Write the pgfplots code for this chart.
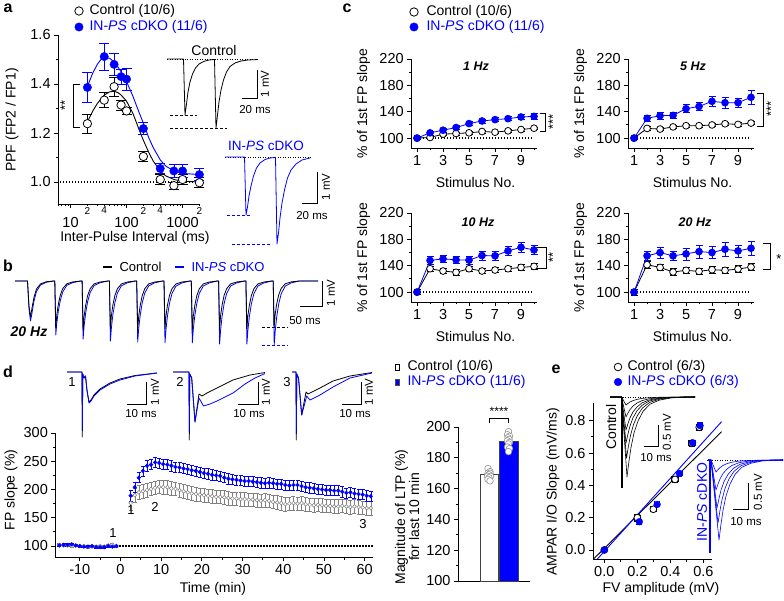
\documentclass[border=0pt]{standalone}
\usepackage{pgfplots}
\pgfplotsset{compat=1.18}
\usepackage{fontspec}
\setmainfont{Liberation Sans}
\definecolor{myblue}{RGB}{0,0,255}
\newcommand{\fz}[1]{\fontsize{#1}{#1}\selectfont}
\newcommand{\inps}{IN-\textit{PS} cDKO}
\pgfplotsset{
 base/.style={scale only axis, axis lines=left, axis line style={-, line width=0.9pt},
   tick align=outside, major tick length=4pt, minor tick length=2.5pt,
   every tick/.append style={line width=0.9pt, black},
   tick label style={font=\fz{14.5}}, label style={font=\fz{14}},
   /pgf/number format/assume math mode=true, /pgf/number format/1000 sep={}, clip=false, anchor=south west},
 ctrlm/.style={mark=*, mark options={fill=white, draw=black, line width=0.8pt, solid}},
 bluem/.style={mark=*, mark options={fill=myblue, draw=myblue, solid}},
 dotl/.style={black, dash pattern=on 1.3pt off 1.7pt, line width=1.3pt},
}
\begin{document}
\begin{tikzpicture}
\path[use as bounding box] (0,0) rectangle (784pt,-601pt);

%%%%%%%%%%%%%%%% panel a
\begin{axis}[base, at={(58.1pt,-204pt)}, width=141.3pt, height=169pt,
  xmode=log, xmin=6, xmax=2000, ymin=0.91, ymax=1.6,
  log ticks with fixed point, xtick={10,100,1000},
  xticklabel style={yshift=-6pt},
  minor xtick={6,7,8,9,30,50,60,70,80,90,300,500,600,700,800,900},
  extra x ticks={20,40,200,400,2000}, extra x tick labels={2,4,2,4,2},
  extra x tick style={major tick length=2.5pt, xticklabel style={font=\fz{10}, yshift=9pt}},
  ytick={1.0,1.2,1.4,1.6}, minor ytick={1.1,1.3,1.5},
  yticklabel style={/pgf/number format/.cd, fixed, fixed zerofill, precision=1},
  xlabel={Inter-Pulse Interval (ms)}, ylabel={PPF (FP2 / FP1)},
  xlabel style={at={(axis description cs:0.544,-0.203)}, anchor=center},
  ylabel style={at={(axis description cs:-0.326,0.497)}, anchor=center}]
\addplot[dotl] coordinates {(6.5,1)(2000,1)};
\addplot[black, line width=0.9pt] coordinates {(20,1.245)(25,1.29)(30,1.32)(40,1.355)(50,1.368)(60,1.37)(70,1.365)(80,1.355)(100,1.33)(130,1.28)(170,1.21)(200,1.17)(250,1.12)(300,1.085)(400,1.045)(500,1.025)(700,1.01)(1000,1.003)(2000,1.0)};
\addplot[myblue, line width=0.9pt] coordinates {(20,1.39)(25,1.445)(30,1.48)(35,1.50)(40,1.508)(50,1.505)(60,1.49)(70,1.47)(80,1.45)(100,1.41)(130,1.35)(170,1.28)(200,1.24)(250,1.18)(300,1.14)(400,1.09)(500,1.065)(700,1.045)(1000,1.035)(2000,1.03)};
\addplot[only marks, ctrlm, mark size=4.2pt, error bars/.cd, y dir=both, y explicit,
  error bar style={black, line width=0.7pt}, error mark options={rotate=90, mark size=5pt, black, line width=0.7pt}]
  coordinates {(20,1.238) +- (0,0.04) (40,1.334) +- (0,0.03) (60,1.389) +- (0,0.04) (80,1.314) +- (0,0.02) (100,1.29) +- (0,0.015) (200,1.104) +- (0,0.02) (400,1.01) +- (0,0.02) (700,0.985) +- (0,0.015) (1000,1.01) +- (0,0.02) (2000,0.997) +- (0,0.02)};
\addplot[only marks, bluem, mark size=4.2pt, error bars/.cd, y dir=both, y explicit,
  error bar style={myblue, line width=0.7pt}, error mark options={rotate=90, mark size=5pt, myblue, line width=0.7pt}]
  coordinates {(20,1.386) +- (0,0.06) (40,1.512) +- (0,0.055) (60,1.48) +- (0,0.045) (80,1.43) +- (0,0.03) (100,1.42) +- (0,0.045) (200,1.218) +- (0,0.025) (400,1.055) +- (0,0.02) (700,1.045) +- (0,0.025) (1000,1.045) +- (0,0.025) (2000,1.03) +- (0,0.025)};
\end{axis}

%%%%%%%%%%%%%%%% panel c
\pgfplotsset{cstyle/.style={base, width=125.4pt, height=89pt, xmin=0.55, xmax=10.2, ymin=85, ymax=220,
  xtick={1,3,5,7,9}, minor xtick={2,4,6,8,10}, ytick={100,140,180,220}, minor ytick={120,160,200},
  xlabel={Stimulus No.}, ylabel={\% of 1st FP slope},
  xlabel style={at={(axis description cs:0.513,-0.382)}, anchor=center},
  ylabel style={at={(axis description cs:-0.38,0.494)}, anchor=center}},
  cctrl/.style={black, line width=0.8pt, ctrlm, mark size=3.4pt, error bars/.cd, y dir=both, y fixed=#1,
  error bar style={black, line width=0.6pt}, error mark options={rotate=90, mark size=3.5pt, black, line width=0.6pt}},
  cblue/.style={myblue, line width=0.8pt, bluem, mark size=3.4pt, error bars/.cd, y dir=both, y explicit,
  error bar style={myblue, line width=0.6pt}, error mark options={rotate=90, mark size=3.5pt, myblue, line width=0.6pt}}}
\begin{axis}[cstyle, at={(411.2pt,-148pt)}]
\addplot[dotl] coordinates {(1,100)(10,100)};
\addplot[cctrl=2] coordinates {(1,100)(2,101)(3,106)(4,107)(5,108)(6,110)(7,109)(8,111)(9,113)(10,115)};
\addplot[cblue] coordinates {(1,100) +- (0,0) (2,108) +- (0,3) (3,112) +- (0,3) (4,116) +- (0,3) (5,122) +- (0,3) (6,126) +- (0,3) (7,128) +- (0,3) (8,129.5) +- (0,3) (9,132) +- (0,4) (10,133) +- (0,4)};
\end{axis}
\begin{axis}[cstyle, at={(628.2pt,-148pt)}]
\addplot[dotl] coordinates {(1,100)(10,100)};
\addplot[cctrl=2.5] coordinates {(1,100)(2,114.7)(3,113.7)(4,117)(5,118.8)(6,118.8)(7,120)(8,121.8)(9,120.8)(10,122.8)};
\addplot[cblue] coordinates {(1,100) +- (0,0) (2,130) +- (0,5) (3,134) +- (0,5) (4,134.5) +- (0,5) (5,144.6) +- (0,6) (6,148) +- (0,6) (7,155.8) +- (0,8) (8,153.7) +- (0,8) (9,153.7) +- (0,7) (10,161.9) +- (0,11)};
\end{axis}
\begin{axis}[cstyle, at={(411.2pt,-302pt)}]
\addplot[dotl] coordinates {(1,100)(10,100)};
\addplot[cctrl=4] coordinates {(1,100)(2,135.5)(3,132)(4,130)(5,135.5)(6,132)(7,133.5)(8,135.5)(9,137.5)(10,139)};
\addplot[cblue] coordinates {(1,100) +- (0,0) (2,148) +- (0,6) (3,150.5) +- (0,6) (4,149) +- (0,6) (5,148.5) +- (0,6) (6,155.5) +- (0,7) (7,155) +- (0,7) (8,162.5) +- (0,7) (9,168) +- (0,8) (10,164) +- (0,7)};
\end{axis}
\begin{axis}[cstyle, at={(628.2pt,-302pt)}]
\addplot[dotl] coordinates {(1,100)(10,100)};
\addplot[cctrl=5] coordinates {(1,100)(2,141.5)(3,137.5)(4,130.5)(5,133)(6,131.5)(7,134)(8,133)(9,135)(10,138)};
\addplot[cblue] coordinates {(1,100) +- (0,0) (2,155) +- (0,7) (3,160) +- (0,8) (4,155) +- (0,7) (5,158) +- (0,9) (6,161.5) +- (0,10) (7,160) +- (0,9) (8,165) +- (0,10) (9,162.5) +- (0,9) (10,166.5) +- (0,10)};
\end{axis}

%%%%%%%%%%%%%%%% panel d main
\begin{axis}[base, at={(55.4pt,-557.3pt)}, width=317.4pt, height=124.3pt,
  xmin=-16, xmax=62, ymin=80, ymax=300,
  xtick={-10,0,...,60}, minor x tick num=1, ytick={100,150,...,300}, minor y tick num=1,
  xlabel={Time (min)}, ylabel={FP slope (\%)},
  xlabel style={at={(axis description cs:0.4965,-0.255)}, anchor=center},
  ylabel style={at={(axis description cs:-0.14,0.541)}, anchor=center}]
\addplot[dotl] coordinates {(-15,100)(62,100)};
\pgfplotsset{dc/.style={only marks, mark=*, mark size=1.9pt, mark options={fill=white, draw=gray, line width=0.5pt}, error bars/.cd, y dir=both, y fixed=#1, error bar style={gray, line width=0.5pt}, error mark options={rotate=90, mark size=2pt, gray, line width=0.5pt}},
 db/.style={only marks, mark=*, mark size=1.9pt, mark options={fill=myblue, draw=myblue}, error bars/.cd, y dir=both, y fixed=#1, error bar style={myblue, line width=0.5pt}, error mark options={rotate=90, mark size=2pt, myblue, line width=0.5pt}}}
\addplot[dc=2] coordinates {(-15,102)(-14,101)(-13,101)(-12,100)(-11,101)(-10,100)(-9,100)(-8,98)(-7,99)(-6,99)(-5,100)(-4,99)(-3,101)(-2,102)(-1,100)};
\addplot[dc=12] coordinates {(2.5,176)(3.5,190)(4.5,195)(5.5,197)(6.5,199)(7.5,201)(8.5,203)(9.5,205)(10.5,204)(11.5,204)(12.5,202)(13.5,201)(14.5,199)(15.5,197)(16.5,195)(17.5,193)(18.5,192)(19.5,191)(20.5,190)(21.5,189)(22.5,188)(23.5,187)(24.5,187)(25.5,186)(26.5,185)(27.5,184)(28.5,184)(29.5,183)(30.5,183)(31.5,182)(32.5,182)(33.5,181)(34.5,180)(35.5,181)(36.5,180)(37.5,178)(38.5,177)(39.5,176)(40.5,174)(41.5,175)(42.5,176)(43.5,175)(44.5,176)(45.5,174)(46.5,173)(47.5,172)(48.5,173)(49.5,172)(50.5,171)(51.5,171)(52.5,170)(53.5,170)(54.5,171)(55.5,170)(56.5,169)(57.5,170)(58.5,169)(59.5,168)(60.5,167)(61.5,167)};
\addplot[db=2] coordinates {(-15,101)(-14,102)(-13,102)(-12,103)(-11,101)(-10,100)(-9,99)(-8,99)(-7,100)(-6,98)(-5,98)(-4,98)(-3,100)(-2,99)(-1,100)};
\addplot[db=9] coordinates {(2.5,189)(3.5,204)(4.5,221)(5.5,233)(6.5,242)(7.5,244)(8.5,248)(9.5,247)(10.5,245)(11.5,244)(12.5,242)(13.5,240)(14.5,239)(15.5,237)(16.5,236)(17.5,234)(18.5,233)(19.5,231)(20.5,229)(21.5,228)(22.5,226)(23.5,225)(24.5,224)(25.5,221)(26.5,219)(27.5,218)(28.5,217)(29.5,216)(30.5,215)(31.5,215)(32.5,214)(33.5,213)(34.5,212)(35.5,211)(36.5,212)(37.5,211)(38.5,210)(39.5,210)(40.5,208)(41.5,207)(42.5,208)(43.5,208)(44.5,206)(45.5,204)(46.5,203)(47.5,202)(48.5,201)(49.5,200)(50.5,199)(51.5,199)(52.5,198)(53.5,198)(54.5,196)(55.5,194)(56.5,195)(57.5,193)(58.5,192)(59.5,191)(60.5,189)(61.5,188)};
\end{axis}

%%%%%%%%%%%%%%%% panel d bars
\begin{axis}[base, clip=true, at={(458pt,-581pt)}, width=72pt, height=154pt,
  xmin=0, xmax=72, ymin=100, ymax=200, xtick=\empty,
  ytick={100,120,...,200}, minor ytick={110,130,...,190},
  ylabel={Magnitude of LTP (\%)\\for last 10 min},
  ylabel style={align=center, at={(axis description cs:-0.708,0.416)}, anchor=center}]
\addplot[ybar, bar width=18pt, bar shift=0pt, fill=white, draw=black!75, line width=0.8pt,
  error bars/.cd, y dir=both, y explicit, error bar style={black}, error mark options={rotate=90, mark size=2pt}] coordinates {(31,169.2) +- (0,1)};
\addplot[ybar, bar width=19pt, bar shift=0pt, fill=myblue, draw=black!75, line width=0.8pt,
  error bars/.cd, y dir=both, y explicit, error bar style={myblue!60}, error mark options={rotate=90, mark size=3pt, myblue!60}] coordinates {(50.5,190.8) +- (0,1.5)};
\addplot[only marks, mark=*, mark size=3.3pt, mark options={fill=white, draw=gray!85, line width=0.6pt}] coordinates {(30,173)(32,171)(30,170)(32,170)(31,169)(29.5,168)(32.5,168)(31,167)(30,166)(32,165)};
\addplot[only marks, mark=*, mark size=3.3pt, mark options={fill=white, draw=gray!85, line width=0.6pt}] coordinates {(50.5,197)(49.5,195)(51.5,194)(50,193)(51,192)(49.5,191)(51.5,190)(50.5,189)(49.5,187)(51.5,186)(50.5,184)};
\end{axis}

%%%%%%%%%%%%%%%% panel e
\begin{axis}[base, at={(593pt,-559pt)}, width=118.6pt, height=156pt,
  xmin=-0.0685, xmax=0.65, ymin=-0.056, ymax=0.91,
  xtick={0,0.2,0.4,0.6}, minor xtick={0.1,0.3,0.5}, ytick={0,0.2,0.4,0.6,0.8}, minor ytick={0.1,0.3,0.5,0.7},
  xticklabel style={/pgf/number format/.cd, fixed, fixed zerofill, precision=1},
  yticklabel style={/pgf/number format/.cd, fixed, fixed zerofill, precision=1},
  xlabel={FV amplitude (mV)}, ylabel={AMPAR I/O Slope (mV/ms)},
  xlabel style={at={(axis description cs:0.573,-0.192)}, anchor=center},
  ylabel style={at={(axis description cs:-0.337,0.43)}, anchor=center}]
\addplot[black, line width=0.9pt] coordinates {(-0.065,-0.056)(0.71,0.732)};
\addplot[myblue, line width=0.9pt] coordinates {(-0.042,-0.056)(0.71,0.794)};
\addplot[only marks, ctrlm, mark size=3.4pt, error bars/.cd, x dir=both, x explicit, y dir=both, y explicit,
  error bar style={black, line width=0.6pt}, error mark options={rotate=90, mark size=3pt, black, line width=0.6pt}]
  coordinates {(0,0) +- (0.01,0.01) (0.20,0.20) +- (0.02,0.02) (0.297,0.252) +- (0.02,0.015) (0.428,0.437) +- (0.02,0.02) (0.53,0.66) +- (0.02,0.02) (0.575,0.76) +- (0.02,0.02)};
\addplot[only marks, bluem, mark size=3.4pt, error bars/.cd, x dir=both, x explicit, y dir=both, y explicit,
  error bar style={myblue, line width=0.6pt}, error mark options={rotate=90, mark size=3pt, myblue, line width=0.6pt}]
  coordinates {(0,0) +- (0.01,0.01) (0.212,0.175) +- (0.015,0.015) (0.32,0.282) +- (0.015,0.01) (0.455,0.474) +- (0.015,0.015) (0.535,0.664) +- (0.015,0.015) (0.58,0.77) +- (0.015,0.02)};
\end{axis}

%%%%%%%%%%%%%%%% overlay in pixel units
\begin{axis}[at={(0pt,-601pt)}, anchor=south west, scale only axis, width=784pt, height=601pt,
  xmin=0, xmax=784, ymin=0, ymax=601, y dir=reverse, hide axis, clip=false]
\pgfplotsset{tr/.style={line width=0.8pt, line join=round}, sb/.style={black, line width=0.8pt}, dsh/.style={dash pattern=on 3pt off 2pt, line width=0.9pt}}
% panel letters
\node[font=\bfseries\fz{16}] at (axis cs:8,8) {a};
\node[font=\bfseries\fz{16}] at (axis cs:8,266) {b};
\node[font=\bfseries\fz{16}] at (axis cs:347,8) {c};
\node[font=\bfseries\fz{16}] at (axis cs:8,372) {d};
\node[font=\bfseries\fz{16}] at (axis cs:556,369) {e};
% a legend
\addplot[only marks, ctrlm, mark size=4.2pt] coordinates {(79,11)};
\addplot[only marks, bluem, mark size=4.2pt] coordinates {(79,27)};
\node[anchor=west, font=\fz{14}] at (axis cs:86,11) {Control (10/6)};
\node[anchor=west, font=\fz{14}, text=myblue] at (axis cs:86,27) {\inps{} (11/6)};
% a bracket
\addplot[sb] coordinates {(80,84)(73,84)(73,127)(80,127)};
\node[font=\fz{13}, rotate=90] at (axis cs:65,105) {**};
% a control trace
\addplot[black, dash pattern=on 1pt off 1.5pt, line width=0.6pt] coordinates {(167,59)(258,59)};
\addplot[black, tr] coordinates {(167,59)(183.5,59)(185,115)(186.5,104)(188,92)(190,82)(192.5,74)(195.5,68)(199,64)(204,61.3)(209,60)(214.5,59.5)(216,128)(217.5,115)(219,102)(221,90)(223.5,80)(226.5,72)(230,66.5)(235,63)(241,61)(248,60)(258,59.5)};
\addplot[black, dsh] coordinates {(170,115)(197,115)};
\addplot[black, dsh] coordinates {(170,128)(227,128)};
\addplot[sb] coordinates {(242,98)(257,98)(257,70)};
\node[font=\fz{14}] at (axis cs:214,50) {Control};
\node[font=\fz{11.5}, rotate=90] at (axis cs:265,84) {1 mV};
\node[font=\fz{11.5}] at (axis cs:255,110) {20 ms};
% a IN-PS trace
\addplot[black, dash pattern=on 1pt off 1.5pt, line width=0.6pt] coordinates {(225,157)(312,157)};
\addplot[myblue, tr] coordinates {(225,157)(244.5,157)(246,215)(247.5,207)(249,196)(251,186)(253.5,176)(256.5,168)(260,163)(265,159.5)(270,158)(275.5,157.5)(277,244)(278.5,233)(280,218)(282,203)(284.5,190)(287.5,178)(291,170)(296,164)(302,160)(310,158)};
\addplot[myblue, dsh] coordinates {(227,215)(250,215)};
\addplot[myblue, dsh] coordinates {(232,244)(272,244)};
\addplot[sb] coordinates {(302,203)(317,203)(317,172)};
\node[font=\fz{13.5}, text=myblue] at (axis cs:266,146) {\inps};
\node[font=\fz{11.5}, rotate=90] at (axis cs:326,187) {1 mV};
\node[font=\fz{11.5}] at (axis cs:312,216) {20 ms};
% b legend
\addplot[black, line width=1.6pt] coordinates {(103,267)(112,267)};
\node[anchor=west, font=\fz{13}] at (axis cs:116,267) {Control};
\addplot[myblue, line width=1.6pt] coordinates {(175,267)(184,267)};
\node[anchor=west, font=\fz{13}, text=myblue] at (axis cs:188,267) {\inps};
\node[font=\bfseries\itshape\fz{14}] at (axis cs:29,332) {20 Hz};
% b traces
\addplot[myblue, tr] coordinates {(15,281)(27.5,281)(29,309)(30.5,321)(32,313)(34,301)(36.5,291.4)(40.5,285)(46.5,282.2)(53.5,281)
(54.8,281)(55.8,335)(56.8,323.1)(58.3,311.2)(60.3,300.4)(62.8,291.8)(66.8,285.3)(72.8,282.6)(80.8,281)
(82.1,281)(83.1,339)(84.1,326.2)(85.6,313.5)(87.6,301.9)(90.1,292.6)(94.1,285.6)(100.1,282.7)(108.1,281)
(109.4,281)(110.4,341)(111.4,327.8)(112.9,314.6)(114.9,302.6)(117.4,293)(121.4,285.8)(127.4,282.8)(135.4,281)
(136.7,281)(137.7,342)(138.7,328.6)(140.2,315.2)(142.2,303)(144.7,293.2)(148.7,285.9)(154.7,282.8)(162.7,281)
(164,281)(165,343)(166,329.4)(167.5,315.7)(169.5,303.3)(172,293.4)(176,286)(182,282.9)(190,281)
(191.3,281)(192.3,343)(193.3,329.4)(194.8,315.7)(196.8,303.3)(199.3,293.4)(203.3,286)(209.3,282.9)(217.3,281)
(218.6,281)(219.6,344)(220.6,330.1)(222.1,316.3)(224.1,303.7)(226.6,293.6)(230.6,286)(236.6,282.9)(244.6,281)
(245.9,281)(246.9,344)(247.9,330.1)(249.4,316.3)(251.4,303.7)(253.9,293.6)(257.9,286)(263.9,282.9)(271.9,281)
(273.2,281)(274.2,345)(275.2,330.9)(276.7,316.8)(278.7,304)(281.2,293.8)(285.2,286.1)(291.2,282.9)(299.2,281)(318,281)};
\addplot[black, tr] coordinates {(15,281)(27.5,281)(29,306.2)(30.5,317)(32,308)(34,297.2)(36.5,288.9)(40.5,283.9)(46.5,281.7)(53.5,281)
(54.8,281)(55.8,328)(56.8,314.8)(58.3,304.5)(60.3,295.1)(62.8,288.5)(66.8,283.8)(72.8,281.9)(80.8,281)
(82.1,281)(83.1,330)(84.1,316.3)(85.6,305.5)(87.6,295.7)(90.1,288.8)(94.1,283.9)(100.1,282)(108.1,281)
(109.4,281)(110.4,329)(111.4,315.6)(112.9,305)(114.9,295.4)(117.4,288.7)(121.4,283.9)(127.4,282)(135.4,281)
(136.7,281)(137.7,330)(138.7,316.3)(140.2,305.5)(142.2,295.7)(144.7,288.8)(148.7,283.9)(154.7,282)(162.7,281)
(164,281)(165,329)(166,315.6)(167.5,305)(169.5,295.4)(172,288.7)(176,283.9)(182,282)(190,281)
(191.3,281)(192.3,330)(193.3,316.3)(194.8,305.5)(196.8,295.7)(199.3,288.8)(203.3,283.9)(209.3,282)(217.3,281)
(218.6,281)(219.6,329)(220.6,315.6)(222.1,305)(224.1,295.4)(226.6,288.7)(230.6,283.9)(236.6,282)(244.6,281)
(245.9,281)(246.9,329)(247.9,315.6)(249.4,305)(251.4,295.4)(253.9,288.7)(257.9,283.9)(263.9,282)(271.9,281)
(273.2,281)(274.2,327)(275.2,314.1)(276.7,304)(278.7,294.8)(281.2,288.4)(285.2,283.8)(291.2,281.9)(299.2,281)(318,281)};
\addplot[black, dsh] coordinates {(262,327)(288,327)};
\addplot[myblue, dsh] coordinates {(262,345)(288,345)};
\addplot[sb] coordinates {(300,306)(322,306)(322,281)};
\node[font=\fz{11.5}, rotate=90] at (axis cs:331,293) {1 mV};
\node[font=\fz{11.5}] at (axis cs:305,321) {50 ms};
% c legend
\addplot[only marks, ctrlm, mark size=4.2pt] coordinates {(414,12)};
\addplot[only marks, bluem, mark size=4.2pt] coordinates {(414,27)};
\node[anchor=west, font=\fz{14}] at (axis cs:423,12) {Control (10/6)};
\node[anchor=west, font=\fz{14}, text=myblue] at (axis cs:423,27) {\inps{} (11/6)};
% c titles and brackets
\node[font=\bfseries\itshape\fz{12.5}] at (axis cs:476,66) {1 Hz};
\node[font=\bfseries\itshape\fz{12.5}] at (axis cs:693,66) {5 Hz};
\node[font=\bfseries\itshape\fz{12.5}] at (axis cs:478,222) {10 Hz};
\node[font=\bfseries\itshape\fz{12.5}] at (axis cs:695,222) {20 Hz};
\addplot[sb] coordinates {(540,113)(545,113)(545,131)(540,131)};
\node[font=\fz{13}, rotate=90] at (axis cs:553,122) {***};
\addplot[sb] coordinates {(757,93)(763,93)(763,126)(757,126)};
\node[font=\fz{13}, rotate=90] at (axis cs:771,109) {***};
\addplot[sb] coordinates {(537,247)(546,247)(546,268)(537,268)};
\node[font=\fz{13}, rotate=90] at (axis cs:553,257) {**};
\addplot[sb] coordinates {(763,243)(770,243)(770,269)(763,269)};
\node[font=\fz{13}] at (axis cs:779,259) {*};
% d insets
\addplot[black, tr] coordinates {(67,372)(82,372)(82.3,437)(82.8,374)(84,378)(85.5,376)(87,390)(89,402)(91,400)(94,395)(100,389)(110,383)(120,379)(135,375.5)(157,373)};
\addplot[myblue, tr] coordinates {(67,372)(82,372)(82.3,430)(82.8,374)(84,378)(85.5,376)(87,391)(89,403)(91,401)(94,396)(100,390)(110,384)(120,380)(135,376)(157,373)};
\addplot[black, tr] coordinates {(173,372)(189,372)(189.3,440)(189.8,374)(191.7,378)(195,422)(199,394)(202,396)(207,393)(217,388)(233,380)(250,375)(265,372.5)};
\addplot[myblue, tr] coordinates {(173,372)(189,372)(189.3,432)(189.8,374)(191.7,378)(195,422)(199,398)(203.5,406)(210,404)(217,401)(225,397)(233,393)(245,384)(255,378)(265,373.5)};
\addplot[black, tr] coordinates {(292,372)(296,372)(296.3,440)(296.8,374)(298.5,378)(301.7,415)(306,392)(308,394)(320,388)(333,381)(350,376)(372,372.5)};
\addplot[myblue, tr] coordinates {(292,372)(296,372)(296.3,434)(296.8,374)(298.5,378)(301.7,415)(306.7,396)(310,400)(320,395)(333,387)(350,378)(372,373)};
\node[font=\fz{13}] at (axis cs:72,382) {1};
\node[font=\fz{13}] at (axis cs:180,382) {2};
\node[font=\fz{13}] at (axis cs:287,382) {3};
\addplot[sb] coordinates {(127,404)(146,404)(146,382)};
\node[font=\fz{11.5}, rotate=90] at (axis cs:155,392) {1 mV};
\node[font=\fz{11.5}] at (axis cs:141,414) {10 ms};
\addplot[sb] coordinates {(238,404)(258,404)(258,382)};
\node[font=\fz{11.5}, rotate=90] at (axis cs:266,392) {1 mV};
\node[font=\fz{11.5}] at (axis cs:249,414) {10 ms};
\addplot[sb] coordinates {(342,404)(361,404)(361,382)};
\node[font=\fz{11.5}, rotate=90] at (axis cs:369,392) {1 mV};
\node[font=\fz{11.5}] at (axis cs:355,414) {10 ms};
\node[font=\fz{13}] at (axis cs:113,533) {1};
\node[font=\fz{13}] at (axis cs:131,510) {1};
\node[font=\fz{13}] at (axis cs:155,507) {2};
\node[font=\fz{13}] at (axis cs:363,524) {3};
% d bar legend
\addplot[only marks, mark=square*, mark size=3pt, mark options={fill=white, draw=black, line width=0.6pt, xscale=0.7}] coordinates {(397,367)};
\addplot[only marks, mark=square*, mark size=3pt, mark options={fill=myblue, draw=black!70, line width=0.6pt, xscale=0.7}] coordinates {(397,382)};
\node[anchor=west, font=\fz{14}] at (axis cs:404,367) {Control (10/6)};
\node[anchor=west, font=\fz{14}, text=myblue] at (axis cs:404,382) {\inps{} (11/6)};
\addplot[sb] coordinates {(489,423)(489,418)(508,418)(508,423)};
\node[font=\fz{12}] at (axis cs:499,411) {****};
% e legend
\addplot[only marks, ctrlm, mark size=3.8pt] coordinates {(618,367)};
\addplot[only marks, bluem, mark size=3.8pt] coordinates {(618,382)};
\node[anchor=west, font=\fz{14}] at (axis cs:624,367) {Control (6/3)};
\node[anchor=west, font=\fz{14}, text=myblue] at (axis cs:624,382) {\inps{} (6/3)};
% e insets control
\addplot[black, dash pattern=on 1pt off 1.5pt, line width=0.6pt] coordinates {(610,397)(695,397)};
\addplot[black, tr, line width=0.6pt] coordinates {(610,397)(621.5,397)(626,405)(628,403.4)(630,402)(633,400.6)(637,399.4)(642,398.4)(649,397.7)(658,397.3)(671,397.1)(686,397)(695,397)};
\addplot[black, tr, line width=0.6pt] coordinates {(610,397)(621.5,397)(626,417)(628,413)(630,409.6)(633,406)(637,403)(642,400.6)(649,398.8)(658,397.8)(671,397.2)(686,397)(695,397)};
\addplot[black, tr, line width=0.6pt] coordinates {(610,397)(621.5,397)(626,430)(628,423.4)(630,417.8)(633,411.9)(637,406.9)(642,402.9)(649,400)(658,398.3)(671,397.3)(686,397)(695,397)};
\addplot[black, tr, line width=0.6pt] coordinates {(610,397)(621.5,397)(626,443)(628,433.8)(630,426)(633,417.7)(637,410.8)(642,405.3)(649,401.1)(658,398.8)(671,397.5)(686,397.1)(695,397)};
\addplot[black, tr, line width=0.6pt] coordinates {(610,397)(621.5,397)(626.5,458)(628.5,445.8)(630.5,435.4)(633.5,424.5)(637.5,415.3)(642.5,408)(649.5,402.5)(658.5,399.4)(671,397.6)(686,397.1)(695,397)};
\addplot[black, tr, line width=0.6pt] coordinates {(610,397)(621.5,397)(627,477)(629,461)(631,447.4)(634,433)(638,421)(643,411.4)(650,404.2)(659,400.2)(672,397.8)(686,397.2)(695,397)};
\addplot[black, line width=1.4pt] coordinates {(622,397)(622,488)};
\node[font=\fz{14}, rotate=90] at (axis cs:611,427) {Control};
\addplot[sb] coordinates {(644,446)(658,446)(658,425)};
\node[font=\fz{11.5}, rotate=90] at (axis cs:667,432) {0.5 mV};
\node[font=\fz{11.5}] at (axis cs:656,458) {10 ms};
% e insets IN-PS
\addplot[black, dash pattern=on 1pt off 1.5pt, line width=0.6pt] coordinates {(707,460)(783,460)};
\addplot[myblue, tr, line width=0.6pt] coordinates {(708,460)(711,460)(716,472)(718,469.6)(720,467.6)(723,465.4)(727,463.6)(732,462.2)(739,461.1)(748,460.5)(761,460.1)(776,460)(783,460)};
\addplot[myblue, tr, line width=0.6pt] coordinates {(708,460)(711,460)(716,490)(718,484)(720,478.9)(723,473.5)(727,469)(732,465.4)(739,462.7)(748,461.2)(761,460.3)(776,460)(783,460)};
\addplot[myblue, tr, line width=0.6pt] coordinates {(708,460)(711,460)(717,508)(719,498.4)(721,490.2)(724,481.6)(728,474.4)(733,468.6)(740,464.3)(749,461.9)(761,460.5)(776,460.1)(783,460)};
\addplot[myblue, tr, line width=0.6pt] coordinates {(708,460)(711,460)(718,523)(720,510.4)(722,499.7)(725,488.4)(729,478.9)(734,471.3)(741,465.7)(750,462.5)(762,460.6)(776,460.1)(783,460)};
\addplot[myblue, tr, line width=0.6pt] coordinates {(708,460)(711,460)(719,540)(721,524)(723,510.4)(726,496)(730,484)(735,474.4)(742,467.2)(751,463.2)(763,460.8)(777,460.2)(783,460)};
\addplot[myblue, line width=1.4pt] coordinates {(710,460)(710,553)};
\node[font=\fz{14}, rotate=90, text=myblue] at (axis cs:702,502) {\inps};
\addplot[sb] coordinates {(733,509)(748,509)(748,483)};
\node[font=\fz{11.5}, rotate=90] at (axis cs:758,492) {0.5 mV};
\node[font=\fz{11.5}] at (axis cs:746,522) {10 ms};
\end{axis}
\end{tikzpicture}
\end{document}
